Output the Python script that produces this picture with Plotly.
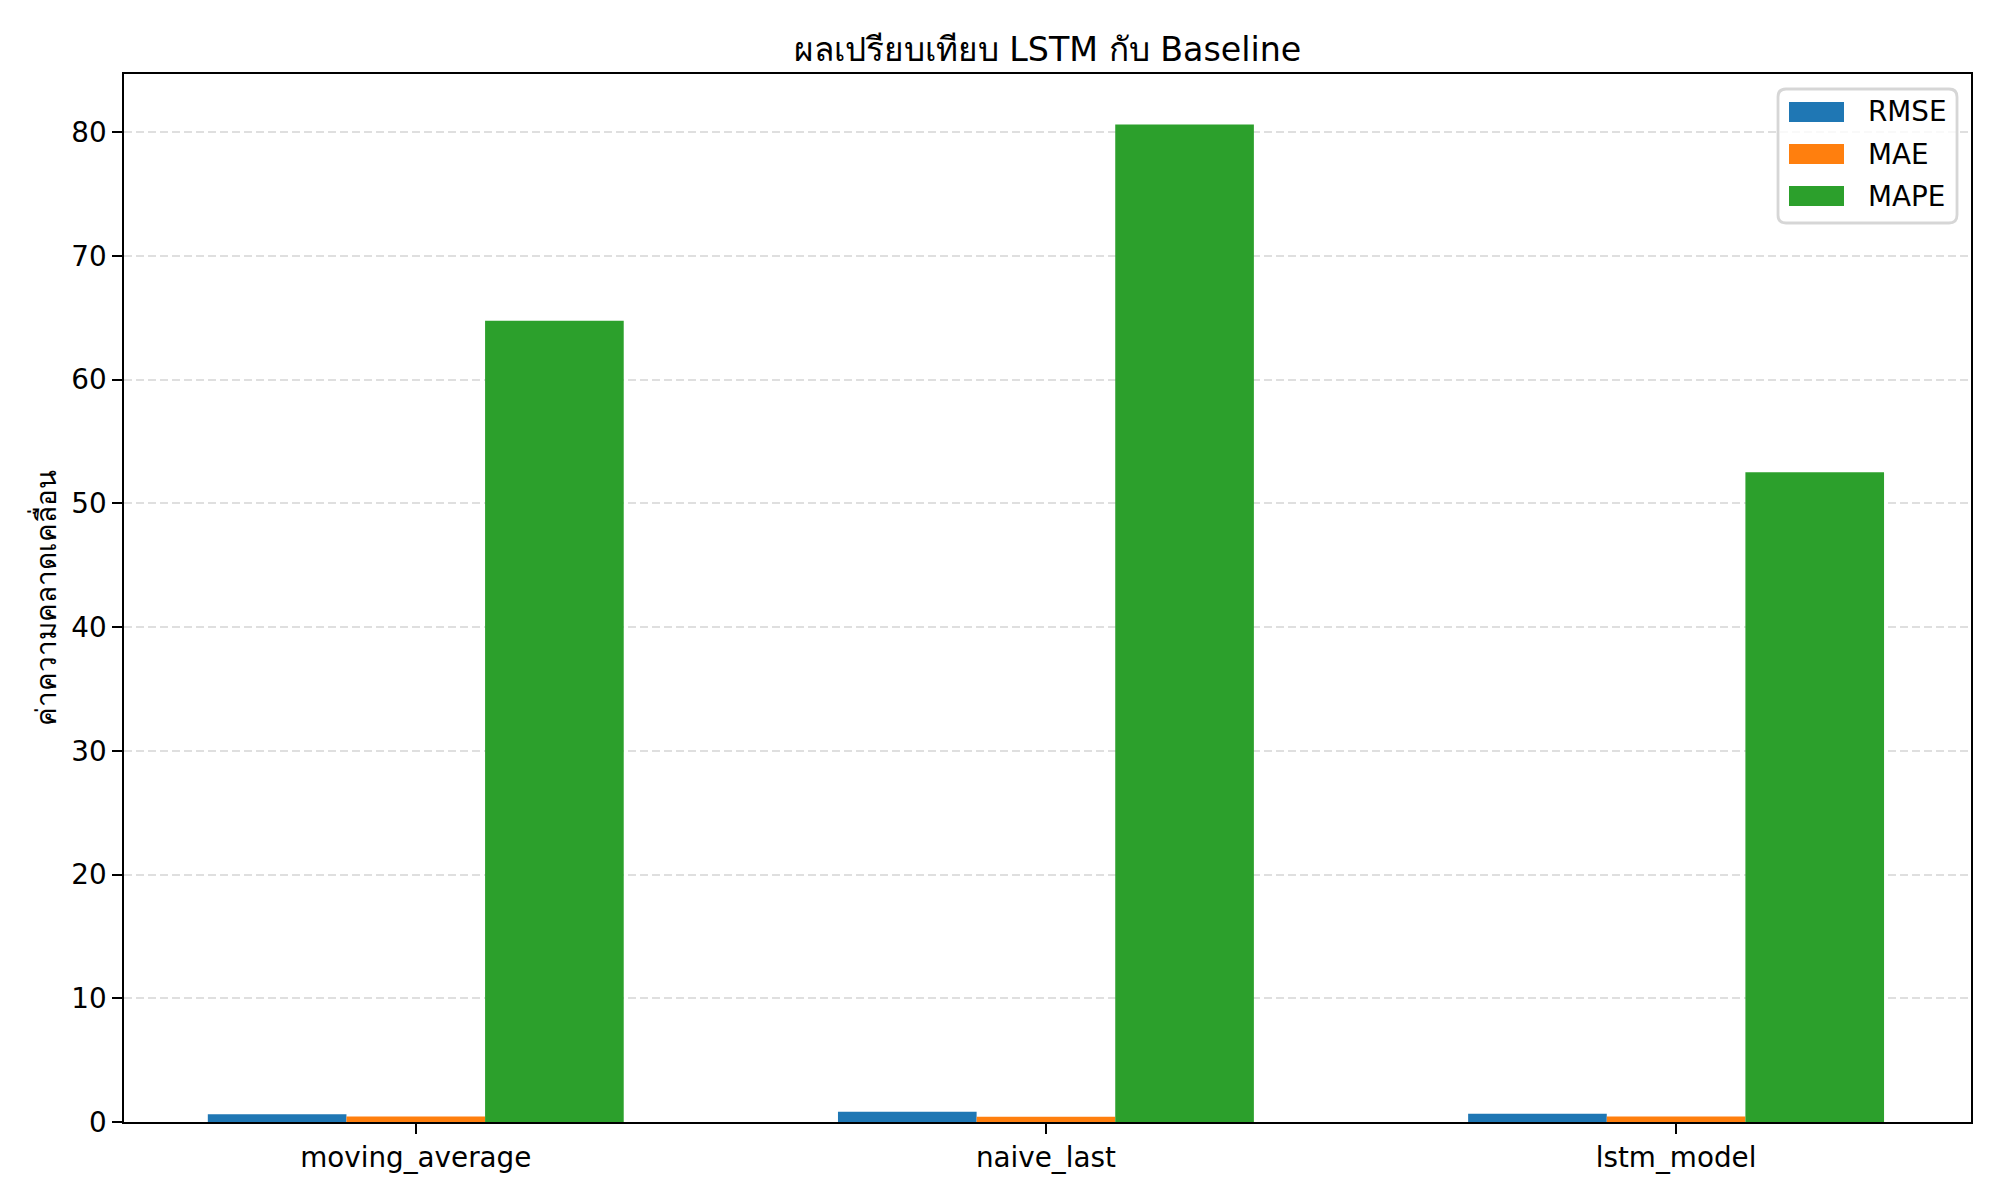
import plotly.graph_objects as go

# ---- data ----
categories = ['moving_average', 'naive_last', 'lstm_model']
series_names = ['RMSE', 'MAE', 'MAPE']
rmse = [0.62, 0.83, 0.67]
mae = [0.45, 0.42, 0.44]
mape = [64.75, 80.62, 52.52]
colors = ['#1f77b4', '#ff7f0e', '#2ca02c']

title_text = 'ผลเปรียบเทียบ LSTM กับ Baseline'
ylabel_text = 'ค่าความคลาดเคลื่อน'

# ---- geometry (page pixels, matplotlib-like layout) ----
OFF = 8  # default body margin of the html page
W, H = 2000 - 2 * OFF, 1200 - 2 * OFF
L, R, T, B = 124, 1971, 74, 1122
FS = 27.8
FONT = 'DejaVu Sans'


def px_x(p):
    return (p - L) / (R - L)


def px_y(p):
    return (B - p) / (B - T)


fig = go.Figure()
for name, vals, col in zip(series_names, [rmse, mae, mape], colors):
    fig.add_trace(go.Bar(
        name=name, x=categories, y=vals,
        marker=dict(color=col, line=dict(width=0)),
        showlegend=False
    ))

fig.update_layout(
    width=W, height=H,
    margin=dict(l=L - OFF, r=W + OFF - R, t=T - OFF, b=H + OFF - B),
    paper_bgcolor='white', plot_bgcolor='white',
    barmode='group', bargap=0.34, bargroupgap=0,
    font=dict(family=FONT, size=FS, color='black'),
    title=dict(
        text=title_text, x=0.5, xref='paper', xanchor='center',
        y=1 - (49 - OFF) / H, yref='container', yanchor='middle',
        font=dict(family=FONT, size=33.3, color='black')
    ),
    showlegend=False,
)

fig.update_xaxes(
    type='category', range=[-0.463, 2.468],
    showline=True, linecolor='black', linewidth=2.2, mirror=True,
    ticks='outside', ticklen=9.7, tickwidth=2.2, tickcolor='black',
    showgrid=False, zeroline=False,
    tickfont=dict(family=FONT, size=FS, color='black'),
)
fig.update_yaxes(
    range=[0, 84.7], tick0=0, dtick=10,
    showline=True, linecolor='black', linewidth=2.2, mirror=True,
    ticks='outside', ticklen=9.7, tickwidth=2.2, tickcolor='black',
    showgrid=True, gridcolor='rgba(176,176,176,0.4)', gridwidth=2.2,
    griddash='8px,4px', zeroline=False, layer='above traces',
    tickfont=dict(family=FONT, size=FS, color='black'),
)

# y axis label
fig.add_annotation(
    text=ylabel_text, xref='paper', yref='paper',
    x=px_x(44.5), y=0.5, textangle=-90, showarrow=False,
    xanchor='center', yanchor='middle',
    font=dict(family=FONT, size=FS, color='black')
)

# ---- legend (matplotlib style box) ----
fx0, fx1, fy0, fy1 = px_x(1778), px_x(1957), px_y(223), px_y(89)
rx, ry = 8 / (R - L), 8 / (B - T)
frame = (f'M {fx0 + rx},{fy1} L {fx1 - rx},{fy1} Q {fx1},{fy1} {fx1},{fy1 - ry} '
         f'L {fx1},{fy0 + ry} Q {fx1},{fy0} {fx1 - rx},{fy0} '
         f'L {fx0 + rx},{fy0} Q {fx0},{fy0} {fx0},{fy0 + ry} '
         f'L {fx0},{fy1 - ry} Q {fx0},{fy1} {fx0 + rx},{fy1} Z')
fig.add_shape(type='path', path=frame, xref='paper', yref='paper',
              fillcolor='rgba(255,255,255,0.8)',
              line=dict(color='rgba(204,204,204,0.8)', width=2.8),
              layer='above')
row_centers = [112, 154, 196]
for name, col, cy in zip(series_names, colors, row_centers):
    fig.add_shape(type='rect', xref='paper', yref='paper',
                  x0=px_x(1789), x1=px_x(1844),
                  y0=px_y(cy + 10), y1=px_y(cy - 10),
                  fillcolor=col, line=dict(width=0), layer='above')
    fig.add_annotation(text=name, xref='paper', yref='paper',
                       x=px_x(1866), y=px_y(cy), showarrow=False,
                       xanchor='left', yanchor='middle',
                       font=dict(family=FONT, size=FS, color='black'))

fig.write_html("out.html")
